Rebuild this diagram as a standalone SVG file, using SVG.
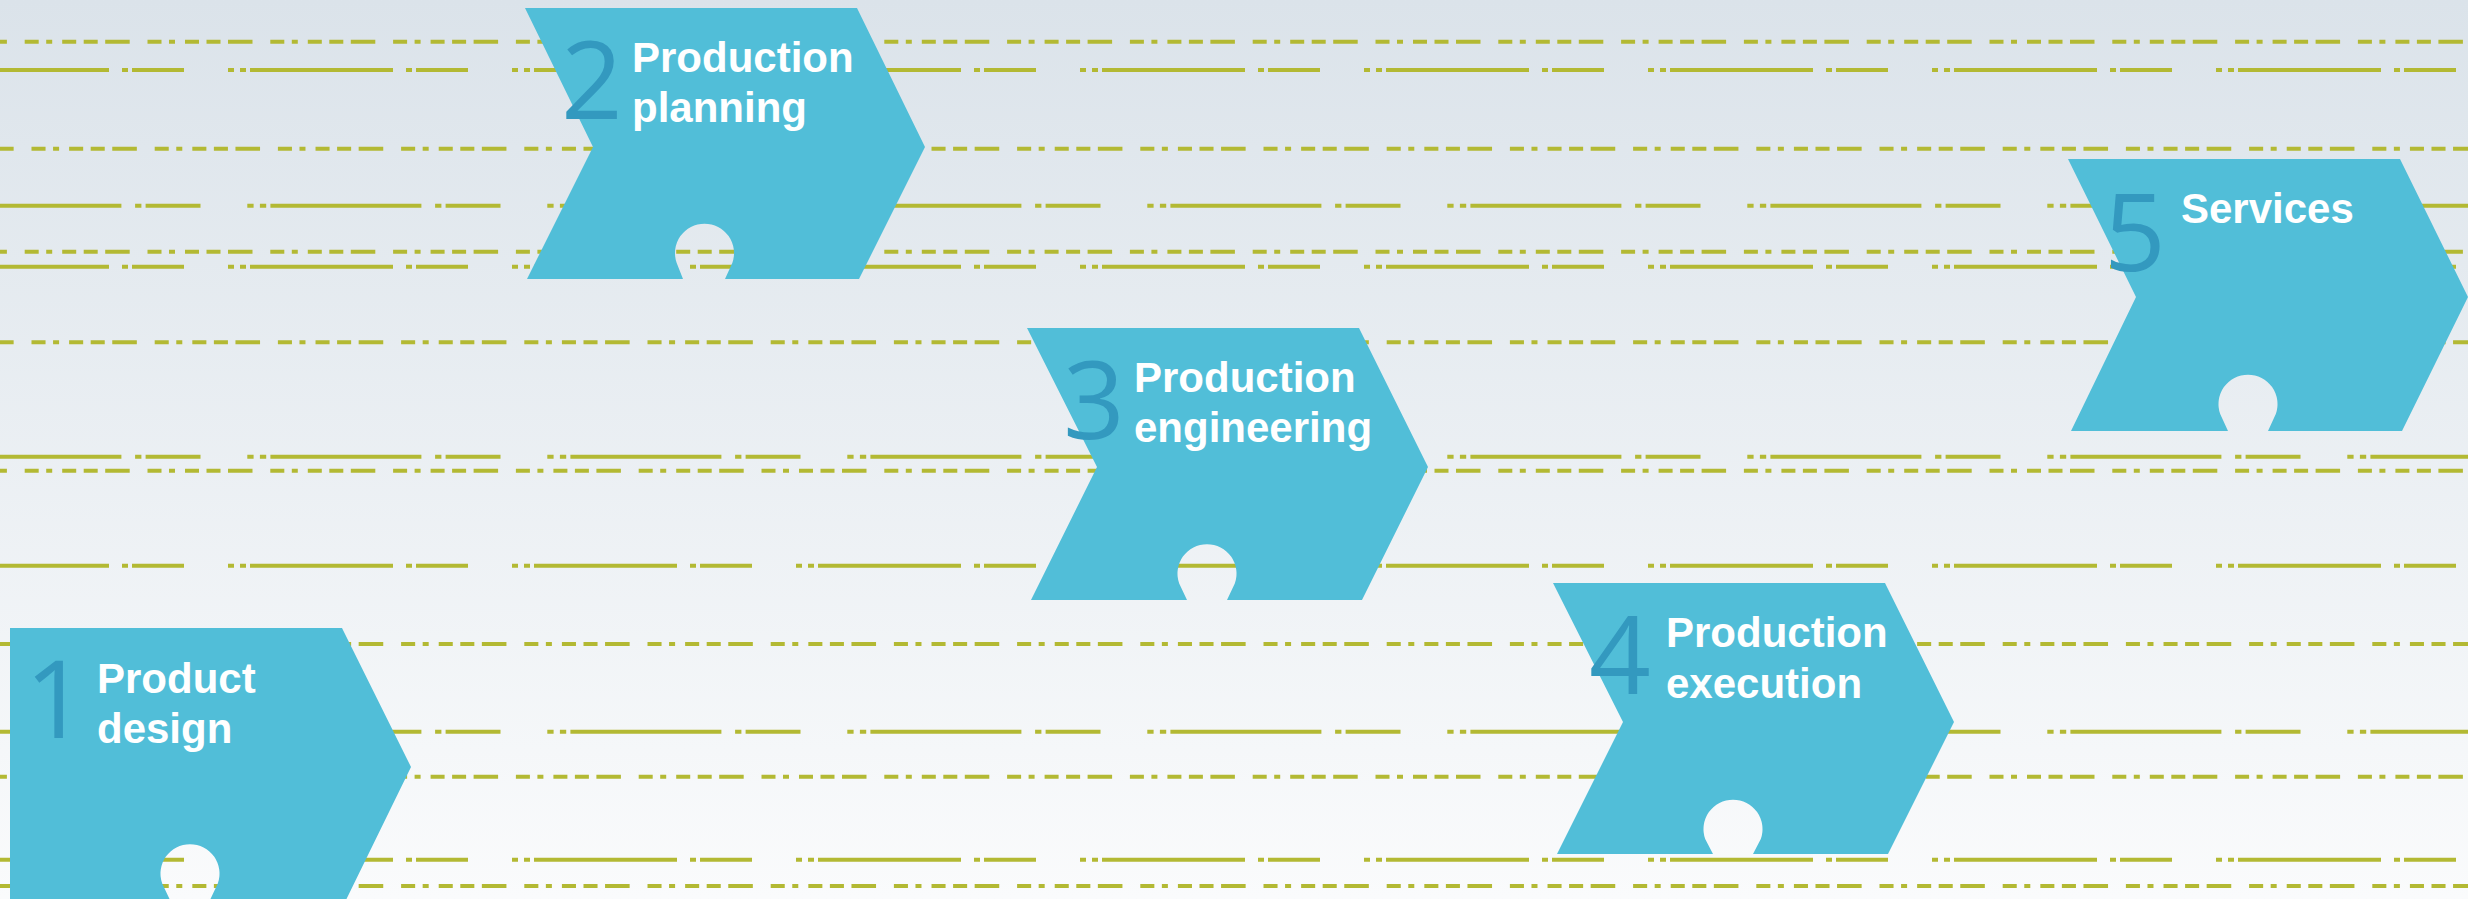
<svg xmlns="http://www.w3.org/2000/svg" width="2468" height="899" viewBox="0 0 2468 899">
  <defs>
    <linearGradient id="bg" x1="0" y1="0" x2="0" y2="1">
      <stop offset="0" stop-color="#dbe3ea"/>
      <stop offset="1" stop-color="#fafbfc"/>
    </linearGradient>
  </defs>
  <style>
    .ln { stroke: #b3b933; stroke-width: 4; fill: none; }
    .A1 { stroke-dasharray: 14 7.5 6 10 14 7.5 14 7.5 24.5 17.8; stroke-dashoffset: 98.1; }
    .A2 { stroke-dasharray: 14.05 7.52 6.02 10.03 14.05 7.52 14.05 7.52 24.58 17.86; stroke-dashoffset: 91.7; }
    .B1 { stroke-dasharray: 6 6 6 4 143 13 6 4 52 44; stroke-dashoffset: 56; }
    .B2 { stroke-dasharray: 6.3 6.3 6.3 4.2 151 13.7 6.3 4.2 54.9 46.8; stroke-dashoffset: 52.7; }
    .shape { fill: #51bed8; }
    .num { font-family: "Open Sans", "Noto Sans", "DejaVu Sans", sans-serif; font-weight: 400; font-size: 108px; fill: #3399bf; text-anchor: middle; }
    .lbl { font-family: "Liberation Sans", Arial, sans-serif; font-weight: bold; font-size: 42px; fill: #ffffff; }
  </style>
  <rect x="0" y="0" width="2468" height="899" fill="url(#bg)"/>
  <g id="background-lines">
    <line class="ln A1" x1="0" y1="41.7" x2="2468" y2="41.7"/>
    <line class="ln B1" x1="0" y1="70" x2="2468" y2="70"/>
    <line class="ln A2" x1="0" y1="148.7" x2="2468" y2="148.7"/>
    <line class="ln B2" x1="0" y1="205.7" x2="2468" y2="205.7"/>
    <line class="ln A1" x1="0" y1="251.7" x2="2468" y2="251.7"/>
    <line class="ln B1" x1="0" y1="266.7" x2="2468" y2="266.7"/>
    <line class="ln A2" x1="0" y1="342.3" x2="2468" y2="342.3"/>
    <line class="ln B2" x1="0" y1="456.7" x2="2468" y2="456.7"/>
    <line class="ln A1" x1="0" y1="470.7" x2="2468" y2="470.7"/>
    <line class="ln B1" x1="0" y1="565.7" x2="2468" y2="565.7"/>
    <line class="ln A2" x1="0" y1="644" x2="2468" y2="644"/>
    <line class="ln B2" x1="0" y1="731.7" x2="2468" y2="731.7"/>
    <line class="ln A1" x1="0" y1="776.7" x2="2468" y2="776.7"/>
    <line class="ln B1" x1="0" y1="859.7" x2="2468" y2="859.7"/>
    <line class="ln A2" x1="0" y1="886" x2="2468" y2="886"/>
  </g>
  <g id="connectors"></g>
  <g id="node-1">
    <path class="shape" d="M10,628 L342,628 L411,767 L346,900 L210,900 L217.8,883.5 A29.5,29.5 0 1 0 162.2,883.5 L170,900 L10,900 Z"/>
    <text class="num" x="56" y="738">1</text>
    <text class="lbl" x="97" y="693">Product</text>
    <text class="lbl" x="97" y="743">design</text>
  </g>
  <g id="node-2">
    <path class="shape" d="M525,8 L857,8 L925,147 L859,279 L725,279 L732.3,263 A29.5,29.5 0 1 0 676.7,263 L683,279 L527,279 L593,147 Z"/>
    <text class="num" x="592" y="119">2</text>
    <text class="lbl" x="632" y="72">Production</text>
    <text class="lbl" x="632" y="122">planning</text>
  </g>
  <g id="node-3">
    <path class="shape" d="M1027,328 L1359,328 L1428,467 L1362,600 L1227,600 L1234.8,583.5 A29.5,29.5 0 1 0 1179.2,583.5 L1187,600 L1031,600 L1097,467 Z"/>
    <text class="num" x="1094" y="439">3</text>
    <text class="lbl" x="1134" y="392">Production</text>
    <text class="lbl" x="1134" y="442">engineering</text>
  </g>
  <g id="node-4">
    <path class="shape" d="M1553,583 L1885,583 L1954,722 L1888,854 L1753,854 L1760.8,839 A29.5,29.5 0 1 0 1705.2,839 L1713,854 L1557,854 L1623,722 Z"/>
    <text class="num" x="1620" y="694">4</text>
    <text class="lbl" x="1666" y="647">Production</text>
    <text class="lbl" x="1666" y="698">execution</text>
  </g>
  <g id="node-5">
    <path class="shape" d="M2068,159 L2400,159 L2468,297 L2402,431 L2268,431 L2275.8,414 A29.5,29.5 0 1 0 2220.2,414 L2228,431 L2071,431 L2136,297 Z"/>
    <text class="num" x="2135" y="271">5</text>
    <text class="lbl" x="2181" y="223">Services</text>
  </g>
</svg>
